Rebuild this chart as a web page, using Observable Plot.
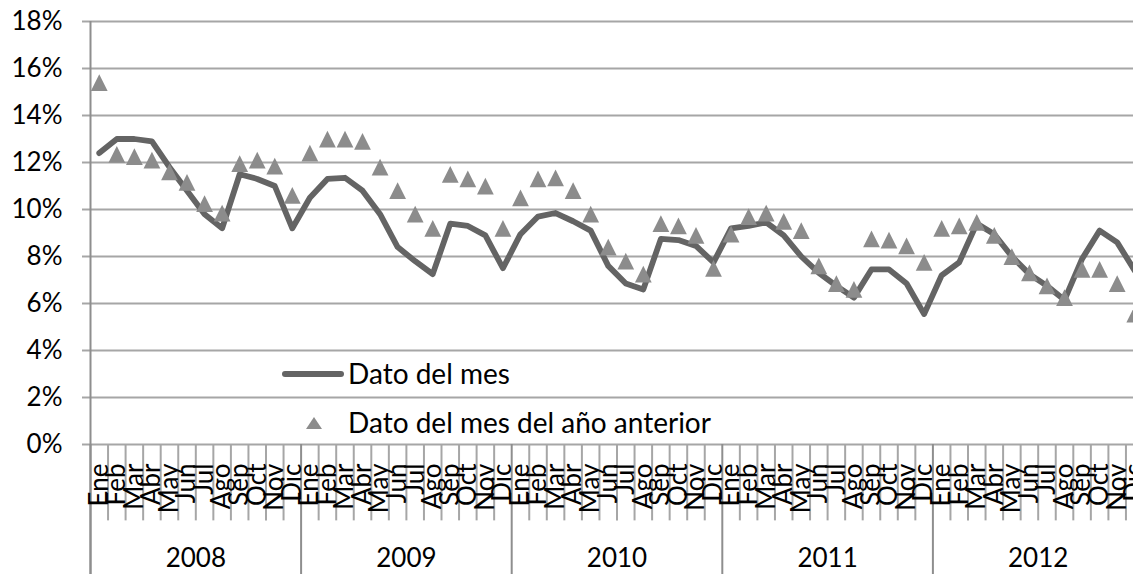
<!DOCTYPE html>
<html><head><meta charset="utf-8">
<script src="https://cdn.jsdelivr.net/npm/d3@7"></script>
<script src="https://cdn.jsdelivr.net/npm/@observablehq/plot@0.6"></script>
<style>
html,body{margin:0;padding:0;background:#fff;overflow:hidden;}
#wrap{position:relative;width:1133px;height:574px;overflow:hidden;}
.leg{position:absolute;font-family:Lato,sans-serif;font-size:28px;color:#000;white-space:nowrap;line-height:1;}
</style></head><body><div id="wrap"></div>
<script>
const months = ["Ene","Feb","Mar","Abr","May","Jun","Jul","Ago","Sep","Oct","Nov","Dic"];
const years = [2008, 2009, 2010, 2011, 2012];
// "Dato del mes" (%), Ene 2008 .. Dic 2012
const datoDelMes = [
  12.4, 13.0, 13.0, 12.9, 11.8, 10.8, 9.8, 9.2, 11.5, 11.3, 11.0, 9.2,
  10.5, 11.3, 11.35, 10.8, 9.8, 8.4, 7.8, 7.25, 9.4, 9.3, 8.9, 7.5,
  8.95, 9.7, 9.85, 9.5, 9.1, 7.6, 6.85, 6.6, 8.75, 8.7, 8.45, 7.75,
  9.2, 9.3, 9.45, 8.9, 8.0, 7.3, 6.75, 6.25, 7.45, 7.45, 6.85, 5.55,
  7.2, 7.75, 9.4, 8.95, 8.0, 7.25, 6.75, 6.15, 7.9, 9.1, 8.6, 7.4
];
// "Dato del mes del año anterior" (%)
const datoAnioAnterior = [
  15.4, 12.35, 12.25, 12.1, 11.6, 11.15, 10.25, 9.85, 11.95, 12.1, 11.85, 10.6,
  12.4, 13.0, 13.0, 12.9, 11.8, 10.8, 9.8, 9.2, 11.5, 11.3, 11.0, 9.2,
  10.5, 11.3, 11.35, 10.8, 9.8, 8.4, 7.8, 7.25, 9.4, 9.3, 8.9, 7.5,
  8.95, 9.7, 9.85, 9.5, 9.1, 7.6, 6.85, 6.6, 8.75, 8.7, 8.45, 7.75,
  9.2, 9.3, 9.45, 8.9, 8.0, 7.3, 6.75, 6.25, 7.45, 7.45, 6.85, 5.55
];
const yTicks = [0, 2, 4, 6, 8, 10, 12, 14, 16, 18];

const rows = [];
years.forEach((yr, k) => months.forEach((m, j) => {
  const i = k * 12 + j;
  rows.push({i, month: m, year: yr, value: datoDelMes[i], prev: datoAnioAnterior[i]});
}));
const nMonths = rows.length;

const tri = {draw(ctx, size) {
  const r = Math.sqrt(size / Math.PI), h = 1.25 * r;
  ctx.moveTo(0, -h); ctx.lineTo(h, h); ctx.lineTo(-h, h); ctx.closePath();
}};

const gridC = "#a6a6a6", axisC = "#8e8e8e";
const bottomY = -5.6, tickY = -3.25;

const chart = Plot.plot({
  width: 1133, height: 574,
  marginLeft: 90, marginRight: 0, marginTop: 21, marginBottom: 130,
  style: {fontFamily: "Lato, sans-serif", fontSize: "26px", color: "#000", background: "#fff", overflow: "hidden"},
  x: {type: "linear", domain: [0, nMonths], range: [90, 1143], axis: null},
  y: {domain: [0, 18], range: [444, 21], axis: null},
  marks: [
    Plot.ruleY(yTicks, {x1: 0, x2: nMonths, stroke: gridC, strokeWidth: 2}),
    Plot.axisY({ticks: yTicks, tickSize: 8, tickPadding: 20, tickFormat: d => d + "%", fontSize: 26, stroke: gridC, strokeWidth: 2, fill: "#000"}),
    Plot.ruleX(d3.range(1, nMonths).filter(i => i % 12 !== 0), {y1: 0, y2: tickY, stroke: gridC, strokeWidth: 2}),
    Plot.ruleX(years.map((_, k) => k * 12), {y1: 0, y2: bottomY, stroke: axisC, strokeWidth: 2}),
    Plot.ruleX([0], {y1: 18, y2: bottomY, stroke: axisC, strokeWidth: 2}),
    Plot.line(rows, {x: d => d.i + 0.5, y: "value", stroke: "#646464", strokeWidth: 5.8, strokeLinejoin: "round", strokeLinecap: "round"}),
    Plot.dot(rows, {x: d => d.i + 0.5, y: "prev", symbol: tri, r: 6.7, fill: "#8c8c8c", stroke: "none"}),
    Plot.text(rows, {x: d => d.i + 0.5, y: 0, dy: 19, text: "month", rotate: -90, textAnchor: "end", lineAnchor: "middle", fontSize: 26, fill: "#000"}),
    Plot.text(years, {x: (d, k) => k * 12 + 6, y: 0, dy: 114, text: d => String(d), fontSize: 26, fill: "#000", lineAnchor: "middle"})
  ]
});
const wrap = document.getElementById("wrap");
wrap.appendChild(chart);

// legend
const l1 = document.createElement("div");
l1.className = "leg"; l1.style.left = "282px"; l1.style.top = "359px";
l1.innerHTML = '<span style="display:inline-block;width:62px;height:6px;border-radius:3px;background:#646464;vertical-align:middle;margin-right:4px;position:relative;top:-3px"></span>Dato del mes';
wrap.appendChild(l1);
const l2 = document.createElement("div");
l2.className = "leg"; l2.style.left = "305px"; l2.style.top = "408px";
l2.innerHTML = '<svg width="18" height="14" style="vertical-align:middle;margin-right:25px;position:relative;top:-3px"><polygon points="9,1 17,13 1,13" fill="#8c8c8c"/></svg>Dato del mes del año anterior';
wrap.appendChild(l2);
</script></body></html>
